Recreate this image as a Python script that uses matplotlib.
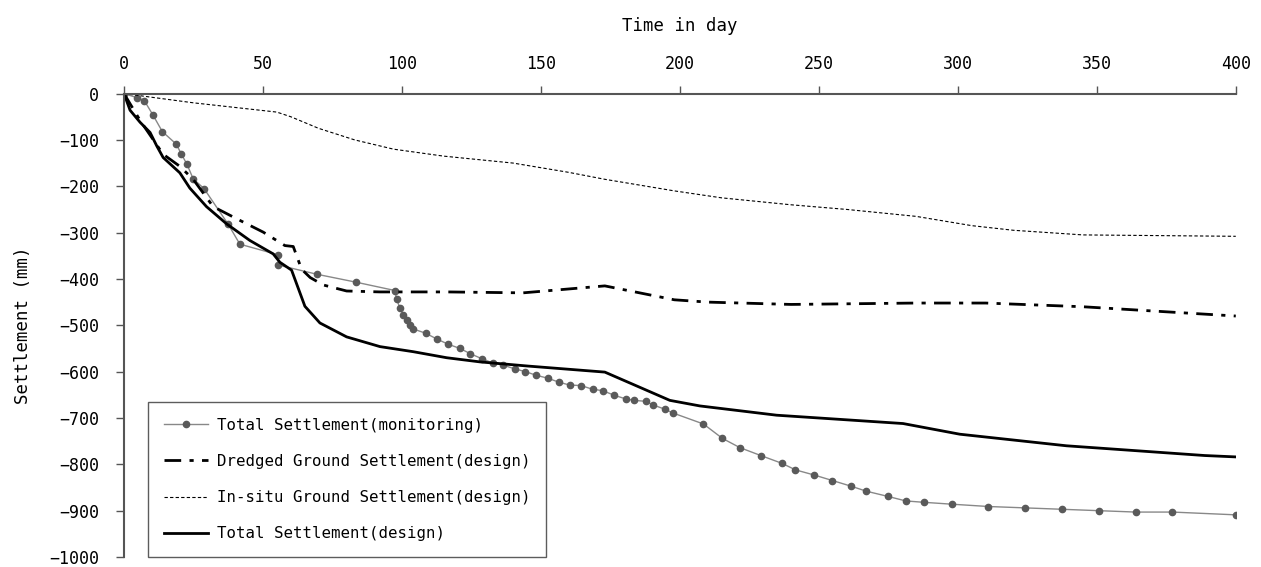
import matplotlib.pyplot as plt

# monitoring (measured) settlement
mon_day = [0, 4.8, 7.3, 10.5, 13.8, 18.8, 20.7, 22.7, 24.9, 28.8, 37.5, 41.7, 55.5, 55.5,
           69.5, 83.5, 97.5, 98.1, 99.3, 100.5, 101.7, 102.9, 104.1, 108.5, 112.7, 116.7,
           120.9, 124.5, 128.7, 132.6, 136.4, 140.6, 144.4, 148.4, 152.4, 156.6, 160.4,
           164.4, 168.6, 172.2, 176.4, 180.6, 183.5, 187.7, 190.4, 194.6, 197.4, 208.5,
           215.3, 221.6, 229.1, 236.8, 241.6, 248.3, 254.9, 261.5, 267.1, 274.7, 281.3,
           287.9, 297.8, 311, 324.3, 337.5, 350.7, 364, 377.2, 400]
mon_set = [0, -9, -15, -47, -82, -109, -131, -153, -184, -205, -282, -325, -348, -370,
           -390, -407, -425, -444, -463, -477, -488, -499, -508, -517, -530, -541,
           -550, -561, -572, -581, -586, -594, -600, -608, -614, -623, -629,
           -630, -638, -641, -651, -659, -662, -664, -672, -681, -689, -713,
           -744, -764, -781, -798, -812, -823, -835, -847, -858, -869, -879,
           -882, -886, -891, -894, -897, -900, -903, -903, -909]

# dredged ground settlement (design)
dr_day = [0, 5.8, 14.1, 20.1, 24.9, 32.1, 40.5, 50.1, 57.9, 60.9, 63.9, 67, 71.7, 80.1,
          92.1, 116.1, 143.6, 173, 198, 210, 240, 285, 310, 345, 400]
dr_set = [0, -58, -131, -157, -185, -244, -270, -299, -328, -330, -379, -397, -413, -426,
          -428, -428, -430, -415, -445, -450, -455, -452, -452, -460, -480]

# in-situ ground settlement (design)
is_day = [0, 10, 25, 40, 55, 60, 70, 83, 97, 115, 140, 160, 173, 198, 215, 240, 260,
          285, 305, 320, 345, 400]
is_set = [0, -8, -20, -30, -40, -50, -75, -100, -120, -135, -150, -170, -185, -210,
          -225, -240, -250, -265, -285, -295, -305, -308]

# total settlement (design)
td_day = [0, 2.2, 5.8, 9.4, 11.8, 14.1, 20.1, 23.7, 29.7, 36.9, 45.3, 53.7, 56.1, 60.3,
          65.1, 70.5, 80.1, 92.1, 104.1, 116.1, 128.1, 145.4, 173, 196.4, 207.2, 234.8,
          280.3, 300.7, 339.1, 388.8, 400]
td_set = [0, -36, -62, -84, -113, -138, -171, -204, -244, -281, -317, -346, -364, -381,
          -459, -495, -525, -546, -557, -570, -579, -588, -601, -662, -674, -694,
          -712, -735, -760, -781, -784]

plt.rcParams['font.family'] = ['DejaVu Sans Mono']

fig = plt.figure(figsize=(12.61, 5.67), dpi=100)
ax = fig.add_axes([0.0983, 0.0176, 0.8817, 0.8174])

ax.plot(mon_day, mon_set, color='#888888', lw=1, marker='o', ms=4.5,
        mfc='#5a5a5a', mec='#5a5a5a', label='Total Settlement(monitoring)')
ax.plot(dr_day, dr_set, color='black', lw=2, ls=(0, (6, 3, 1.5, 3)),
        label='Dredged Ground Settlement(design)')
ax.plot(is_day, is_set, color='black', lw=0.8, ls=(0, (3, 2)),
        label='In-situ Ground Settlement(design)')
ax.plot(td_day, td_set, color='black', lw=2, label='Total Settlement(design)')

ax.set_xlim(0, 400)
ax.set_ylim(-1000, 0)
ax.set_xticks(range(0, 401, 50))
ax.set_yticks(range(-1000, 1, 100))
ax.xaxis.tick_top()
ax.xaxis.set_label_position('top')
ax.spines['bottom'].set_visible(False)
ax.spines['right'].set_visible(False)
for side in ['top', 'left']:
    ax.spines[side].set_color('#555555')
    ax.spines[side].set_linewidth(1.5)
ax.tick_params(axis='both', colors='#555555', labelcolor='black', labelsize=12,
               length=6, width=1)
ax.tick_params(axis='x', pad=9)
ax.tick_params(axis='y', pad=12)
ax.set_xlabel('Time in day', fontsize=12.5, labelpad=17)
ax.set_ylabel('Settlement (mm)', fontsize=12.5, labelpad=12)

leg = ax.legend(loc='lower left', bbox_to_anchor=(0.0216, 0.0), borderaxespad=0,
                fontsize=11.3, frameon=True, fancybox=False, edgecolor='#333333',
                handlelength=2.8, handletextpad=0.6, labelspacing=1.35,
                borderpad=1.0)
leg.get_frame().set_linewidth(1)

fig.savefig('out.png', dpi=100)
